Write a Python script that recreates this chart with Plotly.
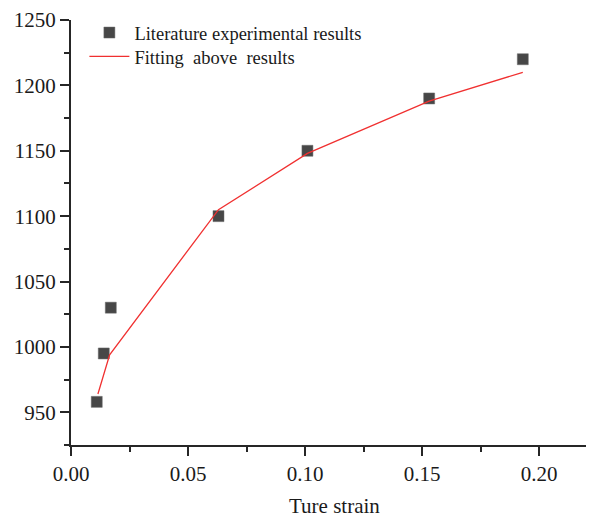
import plotly.graph_objects as go

# Experimental data
exp_strain = [0.011, 0.014, 0.017, 0.063, 0.101, 0.153, 0.193]
exp_stress = [958, 995, 1030, 1100, 1150, 1190, 1220]

# Fitted curve
fit_strain = [0.0115, 0.014, 0.0165, 0.063, 0.101, 0.153, 0.193]
fit_stress = [964, 980, 994, 1105, 1148, 1188, 1210]

x_ticks = [0.00, 0.05, 0.10, 0.15, 0.20]
x_tick_labels = ["0.00", "0.05", "0.10", "0.15", "0.20"]
y_ticks = [950, 1000, 1050, 1100, 1150, 1200, 1250]
x_title = "Ture strain"

FONT = "Liberation Serif, Times New Roman, serif"

fig = go.Figure()
fig.add_trace(go.Scatter(
    x=exp_strain, y=exp_stress, mode="markers",
    name="Literature experimental results", legend="legend",
    marker=dict(symbol="square", size=11, color="#474747",
                line=dict(width=0.5, color="#6a6a6a")),
))
fig.add_trace(go.Scatter(
    x=fit_strain, y=fit_stress, mode="lines",
    name="Fitting  above  results", legend="legend2",
    line=dict(color="#f03030", width=1.3),
))

leg_common = dict(xanchor="left", yanchor="top", bgcolor="rgba(0,0,0,0)",
                  font=dict(size=18.5, family=FONT, color="#1a1a1a"), itemwidth=40)

fig.update_layout(
    width=589, height=517,
    margin=dict(l=71, r=3, t=20, b=72),
    paper_bgcolor="white", plot_bgcolor="white",
    font=dict(family=FONT, size=21, color="#1a1a1a"),
    showlegend=True,
    legend=dict(x=0.026, y=1.014, **leg_common),
    legend2=dict(x=0.026, y=0.958, **leg_common),
    xaxis=dict(
        range=[0, 0.22], tickvals=x_ticks, ticktext=x_tick_labels,
        automargin=False,
        showgrid=False, zeroline=False,
        showline=True, linecolor="#262626", linewidth=2,
        ticks="outside", ticklen=9, tickwidth=1.6, tickcolor="#262626",
        minor=dict(dtick=0.025, ticks="outside", ticklen=5, tickwidth=1.6,
                   tickcolor="#262626", showgrid=False),
    ),
    yaxis=dict(
        range=[925, 1250], tickvals=y_ticks,
        automargin=False,
        showgrid=False, zeroline=False,
        showline=True, linecolor="#262626", linewidth=2,
        ticks="outside", ticklen=9, tickwidth=1.6, tickcolor="#262626",
        minor=dict(dtick=25, tick0=925, ticks="outside", ticklen=5, tickwidth=1.6,
                   tickcolor="#262626", showgrid=False),
    ),
    annotations=[dict(
        text=x_title, xref="paper", yref="paper", x=0.511, y=-0.177,
        xanchor="center", yanchor="bottom", showarrow=False,
        font=dict(size=21, family=FONT, color="#1a1a1a"),
    )],
)

fig.write_html("out.html", config={"displayModeBar": False},
               post_script="document.body.style.margin='0';")
